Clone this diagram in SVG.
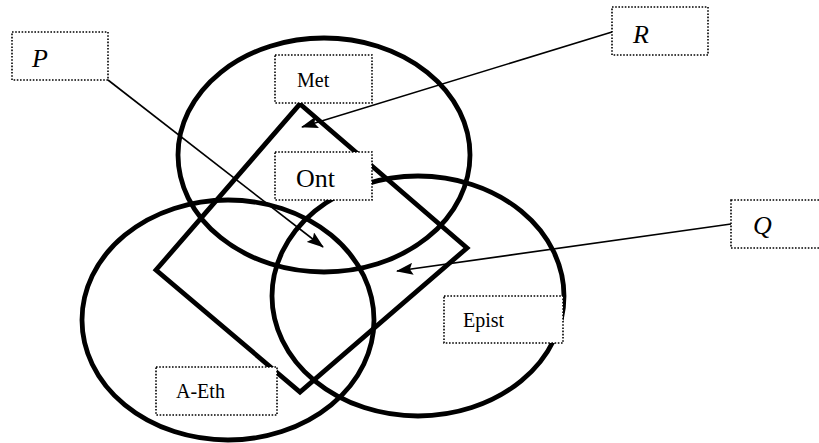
<svg xmlns="http://www.w3.org/2000/svg" width="819" height="443" viewBox="0 0 819 443">
<style>
.shape{fill:none;stroke:#000;stroke-width:4.8}
.box{fill:#fff;stroke:#000;stroke-width:1.6;stroke-dasharray:1.6 1.6}
text{font-family:"Liberation Serif","Times New Roman","DejaVu Serif",serif;font-size:20px;fill:#000}
.big{font-size:26px}
.it{font-style:italic;font-size:26px}
.arrow{stroke:#000;stroke-width:1.6;fill:none;marker-end:url(#ah)}
</style>
<defs>
<marker id="ah" markerUnits="userSpaceOnUse" markerWidth="17" markerHeight="12" refX="16" refY="6" orient="auto">
<path d="M0,0 L17,6 L0,12 L3,6 z" fill="#000"/>
</marker>
</defs>
<g id="shapes">
<ellipse id="ellipse-met" class="shape" cx="324" cy="155" rx="146" ry="117"/>
<ellipse id="ellipse-aeth" class="shape" cx="228" cy="320" rx="146" ry="120"/>
<ellipse id="ellipse-epist" class="shape" cx="418" cy="296" rx="146" ry="120"/>
<polygon id="square-ont" class="shape" points="300,104 467,248 300,392 156,270"/>
</g>
<g id="connectors">
<line class="arrow" x1="108" y1="80" x2="323" y2="247"/>
<line class="arrow" x1="612" y1="32" x2="302" y2="127"/>
<line class="arrow" x1="731" y1="224" x2="397" y2="271"/>
</g>
<g id="node-met"><rect class="box" x="275" y="55" width="97" height="48"/><text x="297" y="87">Met</text></g>
<g id="node-ont"><rect class="box" x="275" y="152" width="97" height="48"/><text class="big" x="296" y="187">Ont</text></g>
<g id="node-epist"><rect class="box" x="444" y="296" width="119" height="47"/><text x="463" y="327">Epist</text></g>
<g id="node-aeth"><rect class="box" x="156" y="367" width="121" height="48"/><text x="176" y="398">A-Eth</text></g>
<g id="node-p"><rect class="box" x="12" y="32" width="96" height="48"/><text class="it" x="32" y="67">P</text></g>
<g id="node-r"><rect class="box" x="612" y="7" width="96" height="48"/><text class="it" x="633" y="43">R</text></g>
<g id="node-q"><rect class="box" x="731" y="200" width="100" height="48"/><text class="it" x="753" y="234">Q</text></g>
</svg>
